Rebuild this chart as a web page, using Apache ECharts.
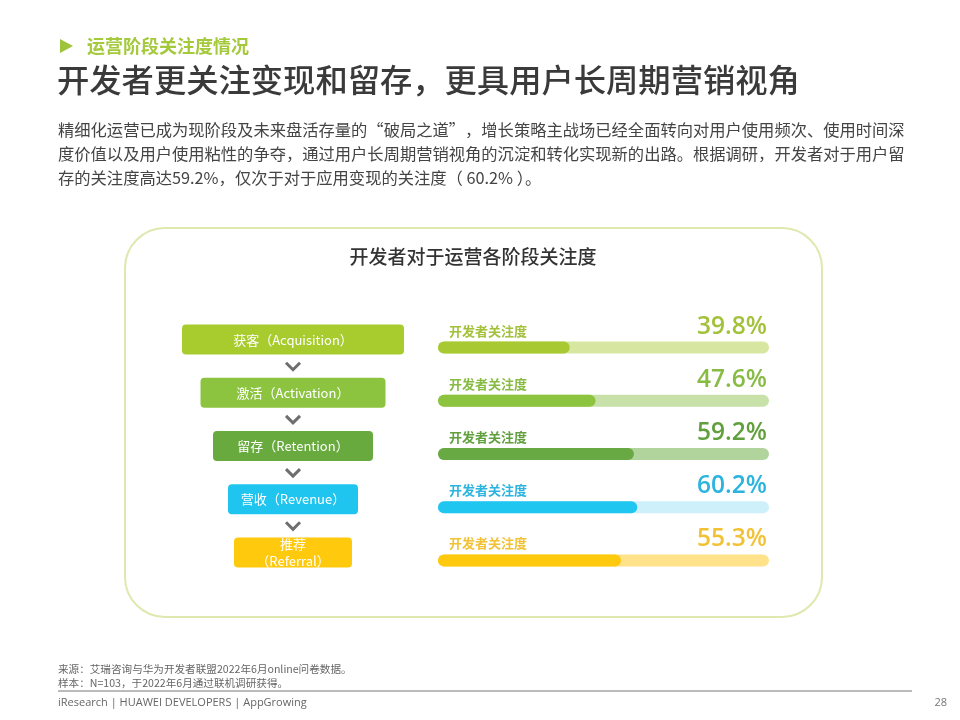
<!DOCTYPE html>
<html><head><meta charset="utf-8">
<script src="https://cdn.jsdelivr.net/npm/echarts@6/dist/echarts.min.js"></script>
<style>html,body{margin:0;padding:0;background:#fff;}#c{width:960px;height:720px;}</style>
</head><body><div id="c"></div>
<script>
// ---- data ----
var stages = ['获客（Acquisition）', '激活（Activation）', '留存（Retention）', '营收（Revenue）', '推荐\n（Referral）'];
var values = [39.8, 47.6, 59.2, 60.2, 55.3];
var metricLabel = '开发者关注度';
var scaleMax = 100;

// ---- styles ----
var fillColors = ['#a8c932', '#8cc43f', '#68a943', '#1ec6f0', '#ffc90e'];
var trackColors = ['#d7e6a0', '#c8e1a8', '#b0d49c', '#cdf0fa', '#ffe28a'];
var textColors = ['#a3c13a', '#87bb44', '#62a03f', '#2cb4df', '#f2c236'];
var boxColors = ['#a8cb2e', '#8cc43f', '#68aa3e', '#20c5ef', '#ffc90e'];
var boxWidths = [222, 185, 160, 130, 118];
var CJK = '"Noto Sans CJK SC", "Noto Sans", sans-serif';

var chart = echarts.init(document.getElementById('c'), null, {renderer: 'canvas'});

var option = {
  backgroundColor: '#fff',
  animation: false,
  grid: {left: 438, right: 960 - 769, top: 321, height: 266},
  xAxis: {type: 'value', min: 0, max: scaleMax, show: false},
  yAxis: {type: 'category', data: stages, inverse: true, show: false},
  series: [
    {
      type: 'bar', barWidth: 12, barGap: '-100%', silent: true,
      data: stages.map(function (s, i) {
        return {value: scaleMax, itemStyle: {color: trackColors[i]},
          label: {color: textColors[i]}};
      }),
      itemStyle: {borderRadius: 6},
      label: {show: true, formatter: metricLabel, position: [11, -11], verticalAlign: 'middle',
        fontFamily: CJK, fontSize: 13, fontWeight: 'bold'}
    },
    {
      type: 'bar', barWidth: 12, barGap: '-100%', silent: true,
      data: values.map(function (v, i) { return {value: v, itemStyle: {color: fillColors[i]}}; }),
      itemStyle: {borderRadius: 6}
    },
    {
      type: 'bar', barWidth: 12, barGap: '-100%', silent: true,
      data: values.map(function (v, i) {
        return {value: scaleMax, label: {color: textColors[i], formatter: v.toFixed(1) + '%'}};
      }),
      itemStyle: {color: 'rgba(0,0,0,0)'},
      label: {show: true, position: ['100%', -15], align: 'right', verticalAlign: 'middle', offset: [-2, 0],
        fontFamily: '"Open Sans", sans-serif', fontSize: 24.5, fontWeight: 600}
    }
  ],
  graphic: []
};
chart.setOption(option);

// ---- decorations and funnel boxes (positioned from the category scale) ----
var g = [];
g.push({type: 'polygon', shape: {points: [[60, 39], [60, 53], [73, 46]]}, style: {fill: '#9dc43a'}});
g.push({type: 'text', x: 87, y: 46, style: {text: '运营阶段关注度情况', fill: '#a5c93c', font: 'bold 18px ' + CJK, verticalAlign: 'middle'}});
g.push({type: 'text', x: 57, y: 80, style: {text: '开发者更关注变现和留存，更具用户长周期营销视角', fill: '#3a3a3a', font: '500 32.3px ' + CJK, verticalAlign: 'middle'}});
var para = [
  '精细化运营已成为现阶段及未来盘活存量的“破局之道”，增长策略主战场已经全面转向对用户使用频次、使用时间深',
  '度价值以及用户使用粘性的争夺，通过用户长周期营销视角的沉淀和转化实现新的出路。根据调研，开发者对于用户留',
  '存的关注度高达59.2%，仅次于对于应用变现的关注度（ 60.2% ）。'
];
para.forEach(function (t, i) {
  g.push({type: 'text', x: 58, y: 130 + i * 24, style: {text: t, fill: '#444', font: '16.3px ' + CJK, verticalAlign: 'middle'}});
});
g.push({type: 'rect', shape: {x: 125, y: 228, width: 697, height: 389, r: 40}, style: {fill: 'none', stroke: '#dde9ae', lineWidth: 2}});
g.push({type: 'text', x: 473, y: 257, style: {text: '开发者对于运营各阶段关注度', fill: '#333', font: '500 19px ' + CJK, align: 'center', verticalAlign: 'middle'}});

var cx = 293;
var ys = stages.map(function (s, i) { return chart.convertToPixel({yAxisIndex: 0}, i) - 8; });
stages.forEach(function (s, i) {
  var w = boxWidths[i];
  g.push({type: 'rect', shape: {x: cx - w / 2, y: ys[i] - 15, width: w, height: 30, r: 4}, style: {fill: boxColors[i]}});
  g.push({type: 'text', x: cx, y: ys[i], style: {text: s, fill: '#fff', font: '13px ' + CJK, align: 'center', verticalAlign: 'middle', lineHeight: 17}});
  if (i < stages.length - 1) {
    var my = (ys[i] + ys[i + 1]) / 2;
    g.push({type: 'polyline', shape: {points: [[cx - 7, my - 3.5], [cx, my + 3.5], [cx + 7, my - 3.5]]}, style: {stroke: '#6e6e6e', lineWidth: 3, fill: 'none'}});
  }
});

g.push({type: 'text', x: 58, y: 669, style: {text: '来源：艾瑞咨询与华为开发者联盟2022年6月online问卷数据。', fill: '#666', font: '10.6px ' + CJK, verticalAlign: 'middle'}});
g.push({type: 'text', x: 58, y: 683, style: {text: '样本：N=103，于2022年6月通过联机调研获得。', fill: '#666', font: '10.6px ' + CJK, verticalAlign: 'middle'}});
g.push({type: 'line', shape: {x1: 58, y1: 691, x2: 912, y2: 691}, style: {stroke: '#777', lineWidth: 1}});
g.push({type: 'text', x: 58, y: 703, style: {text: 'iResearch | HUAWEI DEVELOPERS | AppGrowing', fill: '#666', font: '11px "Open Sans", sans-serif', verticalAlign: 'middle'}});
g.push({type: 'text', x: 947, y: 703, style: {text: '28', fill: '#777', font: '11px "Open Sans", sans-serif', align: 'right', verticalAlign: 'middle'}});

chart.setOption({graphic: g});
</script>
</body></html>
